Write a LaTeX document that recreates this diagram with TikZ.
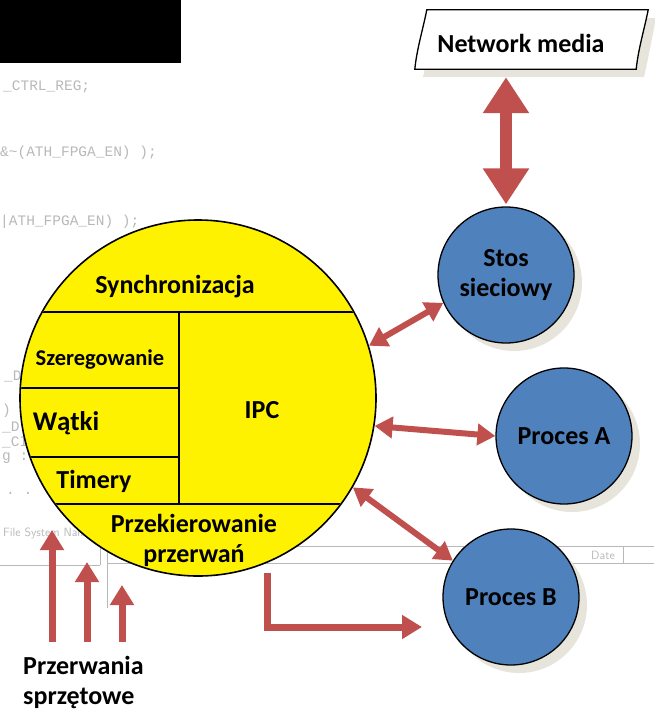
\documentclass[tikz,border=0pt]{standalone}
\usepackage{fontspec}
\setmainfont{Carlito}
\setmonofont{Liberation Mono}
\usetikzlibrary{arrows.meta,shadows}

\definecolor{arrowred}{HTML}{C0504D}
\definecolor{procblue}{HTML}{4F81BD}
\definecolor{shadowgrey}{HTML}{E7E4DB}
\definecolor{codegrey}{HTML}{B8B8B8}

\newcommand{\diagfont}{\fontsize{26}{30}\selectfont\bfseries}

\begin{document}
\begin{tikzpicture}[x=1pt,y=-1pt,
    proc/.style={circle,draw=black,line width=1.3pt,fill=procblue,minimum size=136pt,align=center,font=\diagfont,
        drop shadow={shadow xshift=8pt,shadow yshift=-8pt,fill=shadowgrey,opacity=1}},
    part/.style={font=\diagfont,align=center},
    code/.style={anchor=west,inner sep=0pt,text=codegrey,font=\ttfamily\fontsize{14.5}{14.5}\selectfont},
    link/.style={draw=arrowred,line width=6pt,{Triangle[width=21pt,length=18pt]}-{Triangle[width=21pt,length=18pt]}},
    oneway/.style={draw=arrowred,line width=7pt,-{Triangle[width=23pt,length=20pt]}}]

            \useasboundingbox (0,0) rectangle (654,720);

            \fill[black] (0,0) rectangle (181,63);

            \node (c1) at (3,87) [code] {\_CTRL\_REG;};
            \node (c2) at (0,153) [code] {\&\textasciitilde(ATH\_FPGA\_EN) );};
            \node (c3) at (0,222) [code] {|ATH\_FPGA\_EN) );};
            \node (c4) at (4,376) [code] {\_DA};
            \node (c5) at (2,411) [code] {) ):};
            \node (c6) at (2,427) [code] {\_D};
            \node (c7) at (2,442) [code] {\_CI};
            \node (c8) at (2,458) [code] {g :};
            \node (c9) at (6,493) [code] {. .};
            \node (fsname) at (3,533) [code,font=\sffamily\fontsize{12}{12}\selectfont] {File System Name};
            \node (date) at (603,555) [text=codegrey,font=\sffamily\fontsize{12}{12}\selectfont] {Date};
            \draw[codegrey,line width=0.8pt] (107,546) -- (654,546) (107,563) -- (654,563) (0,565) -- (100,565)
                (100,548) -- (100,565) (107,546) -- (107,608) (623,546) -- (623,563);

            \node (kernel) at (198,398) [circle,draw=black,line width=1.6pt,fill=yellow,minimum size=356pt] {};
            \begin{scope}
                \clip (kernel.center) circle [radius=177pt];
                \draw[line width=1.6pt] (0,312) -- (400,312) (179,312) -- (179,504) (0,388) -- (179,388)
                    (0,457) -- (179,457) (0,504) -- (400,504);
            \end{scope}
            \node (sync) at (175,287) [part] {Synchronizacja};
            \node (szer) at (100,360) [part,font=\fontsize{22.5}{26}\selectfont\bfseries] {Szeregowanie};
            \node (watki) at (66,423) [part,font=\fontsize{27}{30}\selectfont\bfseries] {Wątki};
            \node (timery) at (94,481) [part] {Timery};
            \node (ipc) at (262,410) [part] {IPC};
            \node (przek) at (194,540) [part] {Przekierowanie\\przerwań};

            \fill[shadowgrey] (435,18) .. controls (430,38) and (428,55) .. (423,77) -- (644,77)
                .. controls (649,55) and (652,38) .. (656,18) -- cycle;
            \node (media) at (531,39.5) [minimum width=222pt,minimum height=59pt] {};
            \draw[fill=white,line width=1.3pt] ([xshift=7pt]media.north west) .. controls +(-4,20) and +(2,-20) .. ([xshift=-5pt]media.south west)
                -- ([xshift=-6pt]media.south east) .. controls +(2,-20) and +(-4,20) .. ([xshift=6pt]media.north east) -- cycle;
            \node (medialabel) at (521,43) [part] {Network media};

            \node (stos) at (506,275) [proc] {Stos\\sieciowy};
            \node (procA) at (564,436) [proc] {Proces A};
            \node (procB) at (511,597) [proc] {Proces B};

            \draw[draw=arrowred,line width=12pt,{Triangle[width=44pt,length=36pt]}-{Triangle[width=44pt,length=36pt]},shorten <=8pt,shorten >=2pt]
                (media.south -| stos.north) -- (stos.north);
            \draw[link] (kernel.17) -- (stos.204);
            \draw[link] (kernel.-9) -- (procA.180);
            \draw[link] (kernel.-30) -- (procB.148);

            \coordinate (redirect) at (422,627);
            \draw[oneway,shorten <=10pt] (kernel.-67) |- (redirect);

            \node (irqlabel) at (23,682) [anchor=west,align=left,font=\diagfont,inner sep=0pt] {Przerwania\\sprzętowe};
            \foreach \i/\x/\y in {1/52/530,2/87/562,3/122/585} {
                \coordinate (irq\i) at (\x,642);
                \coordinate (hit\i) at (\x,\y);
                \draw[oneway] (irq\i) -- (hit\i);
            }

        \end{tikzpicture}
\end{document}
